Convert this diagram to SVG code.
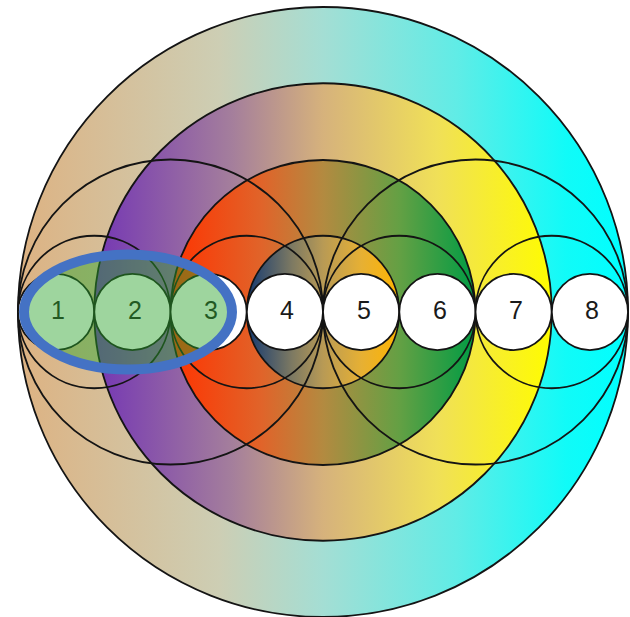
<svg xmlns="http://www.w3.org/2000/svg" width="630" height="617" viewBox="0 0 630 617">
  <defs>
    <linearGradient id="gBig" gradientUnits="userSpaceOnUse" x1="18" y1="0" x2="628" y2="0">
      <stop offset="0" stop-color="#ddb282"/>
      <stop offset="0.33" stop-color="#cdceb4"/>
      <stop offset="0.5" stop-color="#a4ded4"/>
      <stop offset="0.72" stop-color="#60ece6"/>
      <stop offset="0.9" stop-color="#10fbf8"/>
      <stop offset="1" stop-color="#00ffff"/>
    </linearGradient>
    <linearGradient id="gPurple" gradientUnits="userSpaceOnUse" x1="94" y1="0" x2="552" y2="0">
      <stop offset="0" stop-color="#7436b4"/>
      <stop offset="0.3" stop-color="#a47e9c"/>
      <stop offset="0.5" stop-color="#d6b27c"/>
      <stop offset="0.75" stop-color="#f0e058"/>
      <stop offset="1" stop-color="#fffc00"/>
    </linearGradient>
    <linearGradient id="gRed" gradientUnits="userSpaceOnUse" x1="170.5" y1="0" x2="475.5" y2="0">
      <stop offset="0" stop-color="#ff3300"/>
      <stop offset="0.3" stop-color="#e0642a"/>
      <stop offset="0.5" stop-color="#b38a40"/>
      <stop offset="0.75" stop-color="#64a044"/>
      <stop offset="1" stop-color="#009c44"/>
    </linearGradient>
    <linearGradient id="gNavy" gradientUnits="userSpaceOnUse" x1="246.75" y1="0" x2="399.25" y2="0">
      <stop offset="0" stop-color="#163a70"/>
      <stop offset="0.3" stop-color="#7e7a62"/>
      <stop offset="0.5" stop-color="#b89a55"/>
      <stop offset="0.75" stop-color="#e6b034"/>
      <stop offset="1" stop-color="#ffb400"/>
    </linearGradient>
  </defs>
  <style>
    circle { stroke: #141414; stroke-width: 1.8; }
    .ring { fill: none; }
    .node circle { fill: #ffffff; }
    .node text { font-family: "Liberation Sans", Arial, sans-serif; font-size: 25px; fill: #1a1a1a; text-anchor: middle; }
  </style>

  <g id="layers">
    <circle cx="323" cy="312" r="305" fill="url(#gBig)"/>
    <circle cx="323" cy="312" r="228.75" fill="url(#gPurple)"/>
    <circle cx="323" cy="312.5" r="152.5" fill="url(#gRed)"/>
    <circle cx="323" cy="312" r="76.25" fill="url(#gNavy)"/>
  </g>

  <g id="rings">
    <circle class="ring" cx="170.5" cy="312" r="152.5"/>
    <circle class="ring" cx="475.5" cy="312" r="152.5"/>
    <circle class="ring" cx="94.25" cy="312" r="76.25"/>
    <circle class="ring" cx="246.75" cy="312" r="76.25"/>
    <circle class="ring" cx="399.25" cy="312" r="76.25"/>
    <circle class="ring" cx="551.75" cy="312" r="76.25"/>
  </g>

  <g id="node1" class="node"><circle cx="56.1" cy="312" r="38.1"/><text x="58" y="319">1</text></g>
  <g id="node2" class="node"><circle cx="132.4" cy="312" r="38.1"/><text x="135" y="319">2</text></g>
  <g id="node3" class="node"><circle cx="208.6" cy="312" r="38.1"/><text x="211" y="319">3</text></g>
  <g id="node4" class="node"><circle cx="284.9" cy="312" r="38.1"/><text x="287" y="319">4</text></g>
  <g id="node5" class="node"><circle cx="361.1" cy="312" r="38.1"/><text x="364" y="319">5</text></g>
  <g id="node6" class="node"><circle cx="437.4" cy="312" r="38.1"/><text x="440" y="319">6</text></g>
  <g id="node7" class="node"><circle cx="513.6" cy="312" r="38.1"/><text x="516" y="319">7</text></g>
  <g id="node8" class="node"><circle cx="589.9" cy="312" r="38.1"/><text x="592" y="319">8</text></g>

  <g id="highlight">
    <ellipse cx="128" cy="312" rx="104" ry="57.5" fill="#2ba32b" fill-opacity="0.46" stroke="#4472c4" stroke-width="10"/>
  </g>
  <g id="connectors"/>
</svg>
